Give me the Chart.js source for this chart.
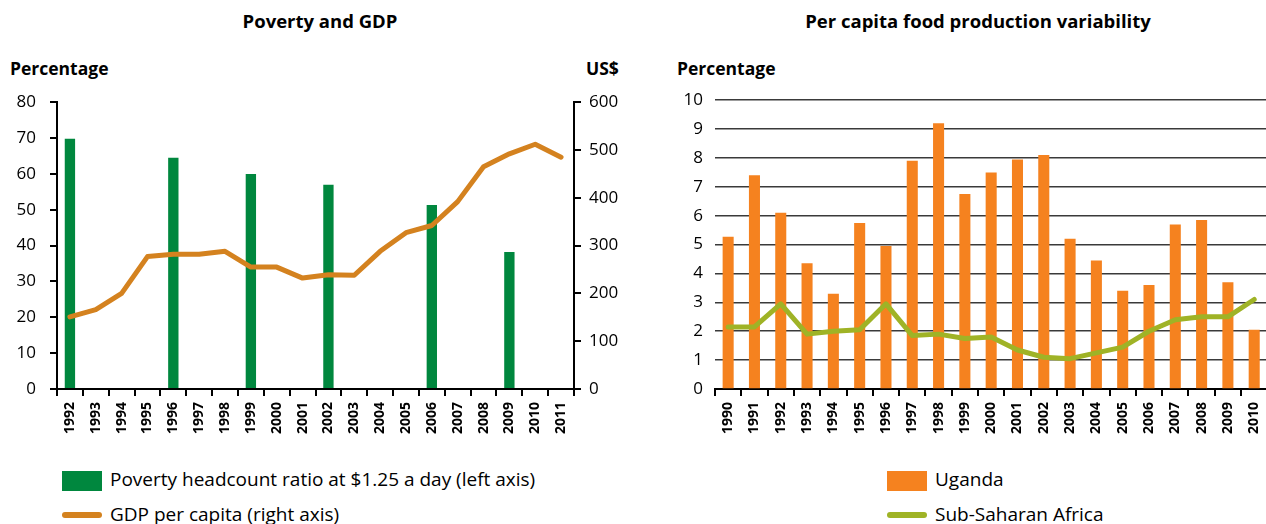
<!DOCTYPE html>
<html>
<head>
<meta charset="utf-8">
<script src="https://cdn.jsdelivr.net/npm/chart.js@4"></script>
<style>
  body { margin: 0; width: 1266px; height: 524px; background: #fff; font-family: "Open Sans", sans-serif; color: #000; overflow: hidden; }
  .abs { position: absolute; white-space: nowrap; }
  .title { font-weight: bold; font-size: 18.5px; top: 8px; transform: translateX(-50%); }
  .axt { font-weight: bold; font-size: 17.5px; top: 56px; }
  .leg { font-size: 19px; }
  .box { position: absolute; width: 40px; height: 20px; }
  .ln { position: absolute; width: 40px; height: 6px; border-radius: 3px; }
</style>
</head>
<body>
<div class="abs title" style="left:320px">Poverty and GDP</div>
<div class="abs title" style="left:978px">Per capita food production variability</div>
<div class="abs axt" style="left:10px">Percentage</div>
<div class="abs axt" style="left:586px">US$</div>
<div class="abs axt" style="left:677px">Percentage</div>

<div class="abs" style="left:0;top:78px;width:620px;height:382px"><canvas id="left"></canvas></div>
<div class="abs" style="left:660px;top:78px;width:617px;height:382px"><canvas id="right"></canvas></div>

<div class="box" style="left:62px;top:471px;background:#00873e"></div>
<div class="abs leg" style="left:110px;top:466px">Poverty headcount ratio at $1.25 a day (left axis)</div>
<div class="ln" style="left:62px;top:512px;background:#d4821f"></div>
<div class="abs leg" style="left:110px;top:501px">GDP per capita (right axis)</div>

<div class="box" style="left:887px;top:471px;background:#f5821f"></div>
<div class="abs leg" style="left:935px;top:466px">Uganda</div>
<div class="ln" style="left:887px;top:512px;background:#9fb326"></div>
<div class="abs leg" style="left:935px;top:501px">Sub-Saharan Africa</div>

<script>
// Poverty and GDP
const yearsA = ['1992','1993','1994','1995','1996','1997','1998','1999','2000','2001',
                '2002','2003','2004','2005','2006','2007','2008','2009','2010','2011'];
const poverty = [69.8, null, null, null, 64.5, null, null, 60.0, null, null,
                 57.0, null, null, null, 51.3, null, null, 38.2, null, null];
const gdp = [151, 166, 200, 277, 282, 282, 288, 255, 255, 232,
             239, 238, 288, 327, 342, 392, 465, 492, 512, 485];

// Per capita food production variability
const yearsB = ['1990','1991','1992','1993','1994','1995','1996','1997','1998','1999','2000',
                '2001','2002','2003','2004','2005','2006','2007','2008','2009','2010'];
const uganda = [5.27, 7.4, 6.1, 4.35, 3.3, 5.75, 4.95, 7.9, 9.2, 6.75, 7.5,
                7.95, 8.1, 5.2, 4.45, 3.4, 3.6, 5.7, 5.85, 3.7, 2.05];
const ssa = [2.15, 2.15, 2.95, 1.9, 2.0, 2.05, 2.95, 1.85, 1.9, 1.75, 1.8,
             1.35, 1.1, 1.05, 1.25, 1.45, 2.0, 2.4, 2.5, 2.5, 3.1];

Chart.defaults.font.family = '"Open Sans", sans-serif';
Chart.defaults.color = '#000';

const xTicks = { font: { size: 14, weight: 'bold' }, minRotation: 90, maxRotation: 90, autoSkip: false, padding: 6 };
const yFont = { size: 17 };

function fixW(w) { return function(s) { s.width = w; }; }
function fixH(h) { return function(s) { s.height = h; }; }

new Chart(document.getElementById('left'), {
    type: 'bar',
    data: {
        labels: yearsA,
        datasets: [{
            type: 'line',
            data: gdp,
            yAxisID: 'y1',
            borderColor: '#d4821f',
            borderWidth: 5,
            pointRadius: 0,
            borderCapStyle: 'round',
            borderJoinStyle: 'round',
            order: 0
        }, {
            data: poverty,
            yAxisID: 'y',
            backgroundColor: '#00873e',
            barPercentage: 0.4,
            categoryPercentage: 1,
            order: 1
        }]
    },
    options: {
        responsive: true,
        maintainAspectRatio: false,
        animation: false,
        layout: { padding: { top: 8, left: 0, right: 0, bottom: 0 } },
        plugins: { legend: { display: false }, tooltip: { enabled: false } },
        scales: {
            x: {
                afterFit: fixH(71),
                grid: { offset: true, drawOnChartArea: false, tickLength: 7, color: '#000', lineWidth: 2 },
                border: { color: '#000', width: 2 },
                ticks: xTicks
            },
            y: {
                position: 'left',
                min: 0, max: 80,
                afterFit: fixW(57),
                grid: { drawOnChartArea: false, tickLength: 7, color: '#000', lineWidth: 2 },
                border: { color: '#000', width: 2 },
                ticks: { stepSize: 10, font: yFont, padding: 14 }
            },
            y1: {
                position: 'right',
                min: 0, max: 600,
                afterFit: fixW(46),
                grid: { drawOnChartArea: false, tickLength: 7, color: '#000', lineWidth: 2 },
                border: { color: '#000', width: 2 },
                ticks: { stepSize: 100, font: yFont, padding: 8 }
            }
        }
    }
});

new Chart(document.getElementById('right'), {
    type: 'bar',
    data: {
        labels: yearsB,
        datasets: [{
            type: 'line',
            data: ssa,
            borderColor: '#9fb326',
            borderWidth: 5,
            pointRadius: 0,
            borderCapStyle: 'round',
            borderJoinStyle: 'round',
            order: 0
        }, {
            data: uganda,
            backgroundColor: '#f5821f',
            barPercentage: 0.42,
            categoryPercentage: 1,
            order: 1
        }]
    },
    options: {
        responsive: true,
        maintainAspectRatio: false,
        animation: false,
        layout: { padding: { top: 8, left: 0, right: 0, bottom: 0 } },
        plugins: { legend: { display: false }, tooltip: { enabled: false } },
        scales: {
            x: {
                afterFit: fixH(71),
                grid: { offset: true, drawOnChartArea: false, tickLength: 7, color: '#000', lineWidth: 2 },
                border: { color: '#000', width: 2 },
                ticks: xTicks
            },
            y: {
                min: 0, max: 10,
                afterFit: fixW(55),
                grid: { drawTicks: false, color: '#3a3a3a', lineWidth: 1.5 },
                border: { display: false },
                ticks: { stepSize: 1, font: yFont, padding: 12 }
            }
        }
    }
});
</script>
</body>
</html>
